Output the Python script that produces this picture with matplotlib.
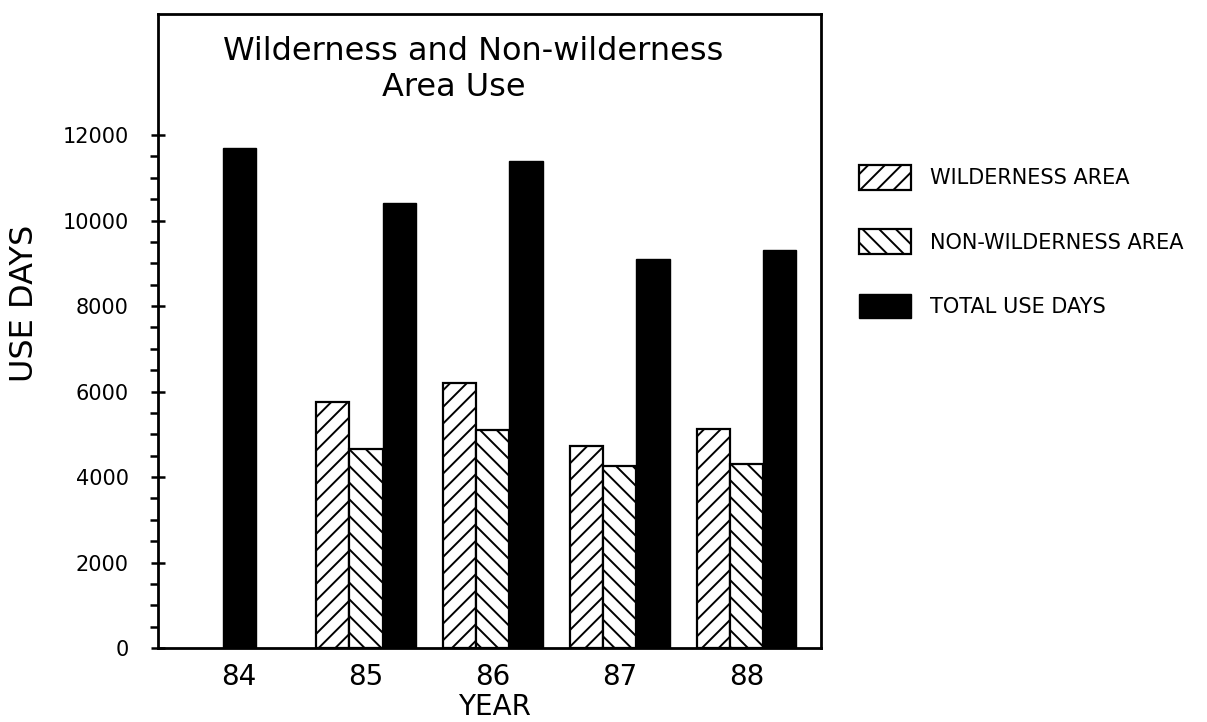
import numpy as np
import matplotlib
matplotlib.use("Agg")
import matplotlib.pyplot as plt
from matplotlib.ticker import FixedLocator

# data
years = ["84", "85", "86", "87", "88"]
wilderness = [np.nan, 5750, 6200, 4730, 5130]
non_wilderness = [np.nan, 4650, 5100, 4250, 4300]
total_use = [11700, 10400, 11400, 9100, 9300]

plt.rcParams["font.family"] = ["DejaVu Sans"]
plt.rcParams["hatch.linewidth"] = 1.4
plt.rcParams["hatch.color"] = "black"

fig = plt.figure(figsize=(12.07, 7.22), dpi=100)
ax = fig.add_axes([0.1309, 0.1025, 0.5493, 0.878])

x = np.arange(len(years))
w = 0.26
wild = np.array(wilderness, dtype=float)
nonw = np.array(non_wilderness, dtype=float)
has_split = ~np.isnan(wild)

# hatched bars only where the split exists
ax.bar(x[has_split] - w, wild[has_split], w, align="center", color="white",
       edgecolor="black", linewidth=1.6, hatch="//", label="WILDERNESS AREA")
ax.bar(x[has_split], nonw[has_split], w, align="center", color="white",
       edgecolor="black", linewidth=1.6, hatch="\\\\", label="NON-WILDERNESS AREA")
# total bar sits in the middle slot when a year has no split
x_total = np.where(has_split, x + w, x)
ax.bar(x_total, total_use, w, align="center", color="black",
       edgecolor="black", linewidth=1.0, label="TOTAL USE DAYS")

ax.set_xlim(-0.638, 4.583)
ax.set_ylim(0, 14830)

ax.set_xticks(x)
ax.set_xticklabels(years, fontsize=20)
ax.tick_params(axis="x", length=0, pad=11)

major = np.arange(0, 12001, 2000)
ax.set_yticks(major)
ax.set_yticklabels([str(v) for v in major], fontsize=15)
minor = [v for v in np.arange(500, 12000, 500) if v % 2000 != 0]
ax.yaxis.set_minor_locator(FixedLocator(minor))
ax.tick_params(axis="y", which="major", direction="inout", length=10, width=1.8, pad=16)
ax.tick_params(axis="y", which="minor", direction="out", length=5.5, width=1.8)

for sp in ax.spines.values():
    sp.set_linewidth(2)

# title inside the plot box, two lines
fig.text(473 / 1207, 1 - 51 / 722, "Wilderness and Non-wilderness",
         fontsize=23, ha="center", va="center")
fig.text(454 / 1207, 1 - 87 / 722, "Area Use", fontsize=23, ha="center", va="center")

fig.text(25 / 1207, 1 - 303 / 722, "USE DAYS", fontsize=23, rotation=90,
         ha="center", va="center")
fig.text(494 / 1207, 1 - 707 / 722, "YEAR", fontsize=20, ha="center", va="center")

fig.legend(loc="upper left", bbox_to_anchor=(859 / 1207, 1 - 165 / 722),
           frameon=False, fontsize=15, handlelength=2.5, handleheight=1.45,
           handletextpad=0.9, labelspacing=1.9, borderpad=0, borderaxespad=0)

fig.savefig("out.png", dpi=100)
